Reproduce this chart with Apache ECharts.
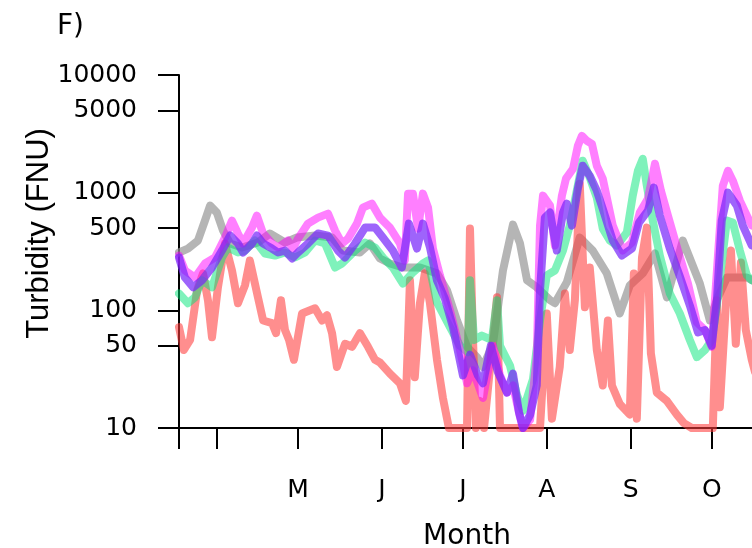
<!DOCTYPE html>
<html>
<head>
<meta charset="utf-8">
<script src="https://cdn.jsdelivr.net/npm/echarts@6/dist/echarts.min.js"></script>
<style>
html,body{margin:0;padding:0;background:#fff;}
#chart{width:752px;height:548px;}
</style>
</head>
<body>
<div id="chart"></div>
<script>
// x values are day-of-year
const monthStarts = [121, 152, 182, 213, 244, 274];
const monthLabels = ['M', 'J', 'J', 'A', 'S', 'O'];
const tickDays = [77, 91, 121, 152, 182, 213, 244, 274];
const yTicks = [10, 50, 100, 500, 1000, 5000, 10000];

const grayDays = [77, 80.3, 84.0, 86.6, 88.5, 91.0, 93.3, 95.9, 100.3, 106.2, 110.6, 116.2, 120.6, 127.3, 133.6, 137.6, 143.9, 147.6, 151.3, 155.0, 159.8, 166.1, 172.4, 176.1, 179.8, 183.5, 187.2, 189.4, 193.1, 196.8, 200.5, 203.1, 205.7, 209.3, 214.2, 216.0, 220.4, 225.2, 230.0, 235.2, 240.0, 243.7, 248.5, 253.0, 257.4, 263.3, 269.6, 273.3, 275.9, 279.6, 287.0, 290];
const grayVals = [310, 335, 392, 579, 776, 677, 476, 370, 342, 377, 450, 377, 416, 432, 416, 322, 310, 370, 276, 250, 231, 231, 206, 148, 82, 49, 40, 33, 52, 218, 536, 370, 180, 157, 122, 115, 173, 416, 322, 206, 94, 163, 206, 304, 129, 392, 169, 82, 122, 190, 190, 175];

const redDays = [77, 78.8, 81.1, 83.7, 85.9, 87.7, 89.2, 91.4, 94.0, 96.6, 98.8, 101.4, 103.2, 106.2, 108.1, 111.4, 112.9, 114.7, 116.2, 117.7, 119.5, 122.5, 127.3, 129.9, 131.7, 133.6, 135.4, 138.4, 141.0, 143.9, 146.9, 149.5, 151.3, 155.0, 158.7, 160.9, 162.4, 164.2, 166.1, 167.9, 169.8, 172.4, 174.6, 176.8, 183.5, 184.6, 185.7, 186.8, 188.3, 189.8, 194.6, 195.7, 210.5, 213.0, 214.9, 217.8, 219.7, 221.5, 223.4, 225.2, 227.1, 228.9, 231.5, 233.7, 235.6, 237.1, 240.0, 243.7, 245.2, 246.3, 248.2, 250.0, 251.5, 253.7, 257.4, 261.1, 263.7, 266.6, 274.4, 275.9, 277.0, 279.6, 281.1, 282.9, 284.8, 286.6, 288.8, 290];
const redVals = [72, 46, 56, 148, 206, 122, 59, 157, 370, 218, 115, 163, 265, 129, 82, 78, 64, 122, 68, 56, 38, 94, 104, 82, 91, 64, 33, 52, 49, 64, 49, 38, 36, 29, 24, 17, 180, 27, 115, 206, 115, 38, 18, 10, 10, 495, 59, 10, 17, 10, 129, 10, 10, 94, 12, 33, 139, 46, 122, 1190, 106, 231, 46, 23, 82, 23, 16, 13, 206, 12, 281, 505, 43, 20, 17, 13, 11, 10, 10, 122, 15, 157, 322, 52, 255, 68, 38, 30];

const greenDays = [77, 80.3, 82.9, 85.5, 89.2, 92.9, 95.1, 98.8, 101.4, 105.1, 108.8, 112.5, 116.2, 119.9, 123.6, 127.3, 131.0, 134.7, 137.3, 142.1, 145.8, 149.5, 152.4, 156.1, 159.8, 163.5, 167.2, 169.1, 172.4, 177.2, 180.9, 183.8, 184.6, 186.1, 189.0, 192.7, 194.6, 195.7, 199.4, 202.0, 204.2, 207.9, 210.5, 213.0, 216.0, 219.0, 221.5, 224.1, 226.3, 228.9, 231.5, 233.7, 236.3, 238.9, 242.6, 244.8, 246.7, 248.5, 250.0, 252.2, 254.8, 258.5, 262.2, 265.9, 268.5, 271.5, 274.0, 275.9, 278.1, 279.6, 281.8, 284.4, 287.0, 288.8, 290];
const greenVals = [139, 115, 129, 180, 157, 281, 342, 310, 322, 392, 304, 292, 310, 281, 310, 392, 370, 231, 250, 322, 377, 342, 281, 231, 169, 210, 250, 265, 117, 72, 50, 44, 180, 56, 61, 56, 122, 50, 34, 19, 14, 26, 82, 198, 218, 322, 525, 1040, 1870, 1340, 907, 495, 392, 356, 458, 944, 1535, 1940, 1146, 579, 292, 139, 94, 56, 40, 46, 56, 110, 304, 579, 557, 322, 198, 180, 185];

const magentaDays = [77, 79.2, 82.9, 86.6, 90.3, 94.0, 96.6, 98.8, 100.7, 104.0, 105.8, 108.1, 111.4, 113.6, 117.3, 119.1, 121.0, 124.7, 128.4, 132.1, 134.7, 137.3, 139.5, 142.8, 145.0, 148.3, 151.3, 155.0, 158.7, 160.5, 161.7, 163.5, 165.4, 167.2, 169.1, 170.9, 173.5, 177.2, 180.9, 183.5, 185.7, 189.4, 193.1, 195.7, 198.3, 200.5, 203.1, 204.2, 206.8, 209.3, 210.5, 211.6, 214.2, 216.0, 218.6, 220.1, 222.7, 224.5, 226.0, 227.8, 229.7, 231.5, 233.7, 237.4, 241.1, 244.5, 247.4, 250.4, 253.0, 255.2, 257.8, 261.5, 265.2, 268.5, 271.5, 274.0, 276.3, 278.1, 280.0, 281.8, 284.4, 287.0, 288.8, 290];
const magentaVals = [292, 218, 190, 250, 281, 416, 579, 450, 370, 505, 638, 450, 370, 342, 392, 335, 407, 546, 614, 664, 476, 370, 407, 546, 746, 807, 614, 505, 370, 265, 981, 981, 495, 981, 746, 335, 198, 100, 46, 24, 31, 18, 50, 28, 20, 23, 12.4, 10, 11.7, 40, 525, 944, 776, 356, 944, 1315, 1597, 2500, 3040, 2760, 2600, 1694, 1315, 525, 322, 377, 677, 889, 1762, 1040, 638, 322, 169, 79, 68, 49, 292, 1146, 1535, 1264, 855, 638, 525, 520];

const purpleDays = [77, 79.2, 82.2, 85.5, 89.2, 92.9, 95.9, 98.8, 100.7, 104.0, 105.8, 108.1, 111.4, 113.6, 116.2, 118.8, 121.0, 124.7, 128.4, 132.1, 135.8, 138.4, 142.1, 145.8, 149.5, 152.4, 156.1, 159.4, 162.0, 165.0, 167.2, 169.8, 172.4, 175.3, 178.3, 182.0, 184.6, 187.5, 189.4, 192.3, 194.9, 198.3, 200.5, 202.7, 204.2, 206.8, 209.3, 210.5, 212.3, 214.2, 216.7, 219.0, 220.4, 222.3, 224.5, 226.3, 228.9, 231.5, 233.7, 237.4, 240.8, 244.5, 247.1, 250.4, 252.6, 254.8, 258.5, 262.2, 265.9, 268.9, 271.5, 274.0, 275.9, 277.7, 280.0, 283.3, 285.5, 288.8, 290];
const purpleVals = [281, 190, 157, 180, 231, 322, 432, 370, 310, 370, 432, 370, 335, 310, 322, 276, 310, 370, 450, 432, 322, 281, 370, 505, 505, 416, 322, 231, 546, 335, 546, 342, 180, 126, 72, 28, 42, 28, 24, 50, 30, 20, 29, 13.7, 10, 12.9, 23, 147, 614, 677, 322, 677, 807, 525, 1081, 1694, 1393, 1040, 731, 392, 292, 335, 557, 703, 1103, 638, 335, 194, 110, 65, 68, 50, 122, 579, 1000, 776, 525, 356, 350];

function pairs(d, v) { return d.map((x, i) => [x, v[i]]); }

const FONT = 'DejaVu Sans';
function lineSeries(name, d, v, color) {
  return {
    name: name, type: 'line', data: pairs(d, v), showSymbol: false, symbol: 'none',
    lineStyle: { color: color, width: 8, cap: 'round', join: 'round' },
    clip: true, silent: true, z: 2
  };
}

const chart = echarts.init(document.getElementById('chart'), null, { renderer: 'canvas' });
chart.setOption({
  animation: false,
  backgroundColor: '#ffffff',
  title: {
    text: 'F)', left: 52, top: 8,
    textStyle: { fontFamily: FONT, fontSize: 28, fontWeight: 'normal', color: '#000' }
  },
  grid: { left: 179, top: 75, width: 576, height: 353, containLabel: false, outerBoundsMode: 'none' },
  xAxis: {
    type: 'value', min: 77, max: 290,
    name: 'Month', nameLocation: 'middle', nameGap: 95, nameMoveOverlap: false,
    nameTextStyle: { fontFamily: FONT, fontSize: 28, color: '#000' },
    axisLine: { show: true, onZero: false, lineStyle: { color: '#000', width: 2 } },
    axisTick: { show: true, customValues: tickDays, length: 21, lineStyle: { color: '#000', width: 2 } },
    axisLabel: {
      customValues: monthStarts, margin: 50,
      fontFamily: FONT, fontSize: 25, color: '#000',
      formatter: function (v) { const i = monthStarts.indexOf(v); return i >= 0 ? monthLabels[i] : ''; }
    },
    splitLine: { show: false }
  },
  yAxis: {
    type: 'log', logBase: 10, min: 10, max: 10000,
    name: 'Turbidity (FNU)', nameLocation: 'middle', nameGap: 124, nameRotate: 90, nameMoveOverlap: false,
    nameTextStyle: { fontFamily: 'Liberation Sans', fontSize: 31, color: '#000', padding: [0, 0, 0, 36] },
    axisLine: { show: true, lineStyle: { color: '#000', width: 2 } },
    axisTick: { show: true, customValues: yTicks, length: 21, lineStyle: { color: '#000', width: 2 } },
    axisLabel: {
      customValues: yTicks, margin: 42, fontFamily: FONT, fontSize: 25, color: '#000',
      formatter: function (v) { return String(Math.round(v)); }
    },
    splitLine: { show: false },
    minorTick: { show: false }
  },
  series: [
    lineSeries('gray', grayDays, grayVals, 'rgba(150,150,150,0.7)'),
    lineSeries('red', redDays, redVals, 'rgba(255,60,60,0.58)'),
    lineSeries('green', greenDays, greenVals, 'rgba(0,230,120,0.5)'),
    lineSeries('magenta', magentaDays, magentaVals, 'rgba(255,0,255,0.5)'),
    lineSeries('purple', purpleDays, purpleVals, 'rgba(120,40,250,0.72)')
  ]
});
</script>
</body>
</html>
